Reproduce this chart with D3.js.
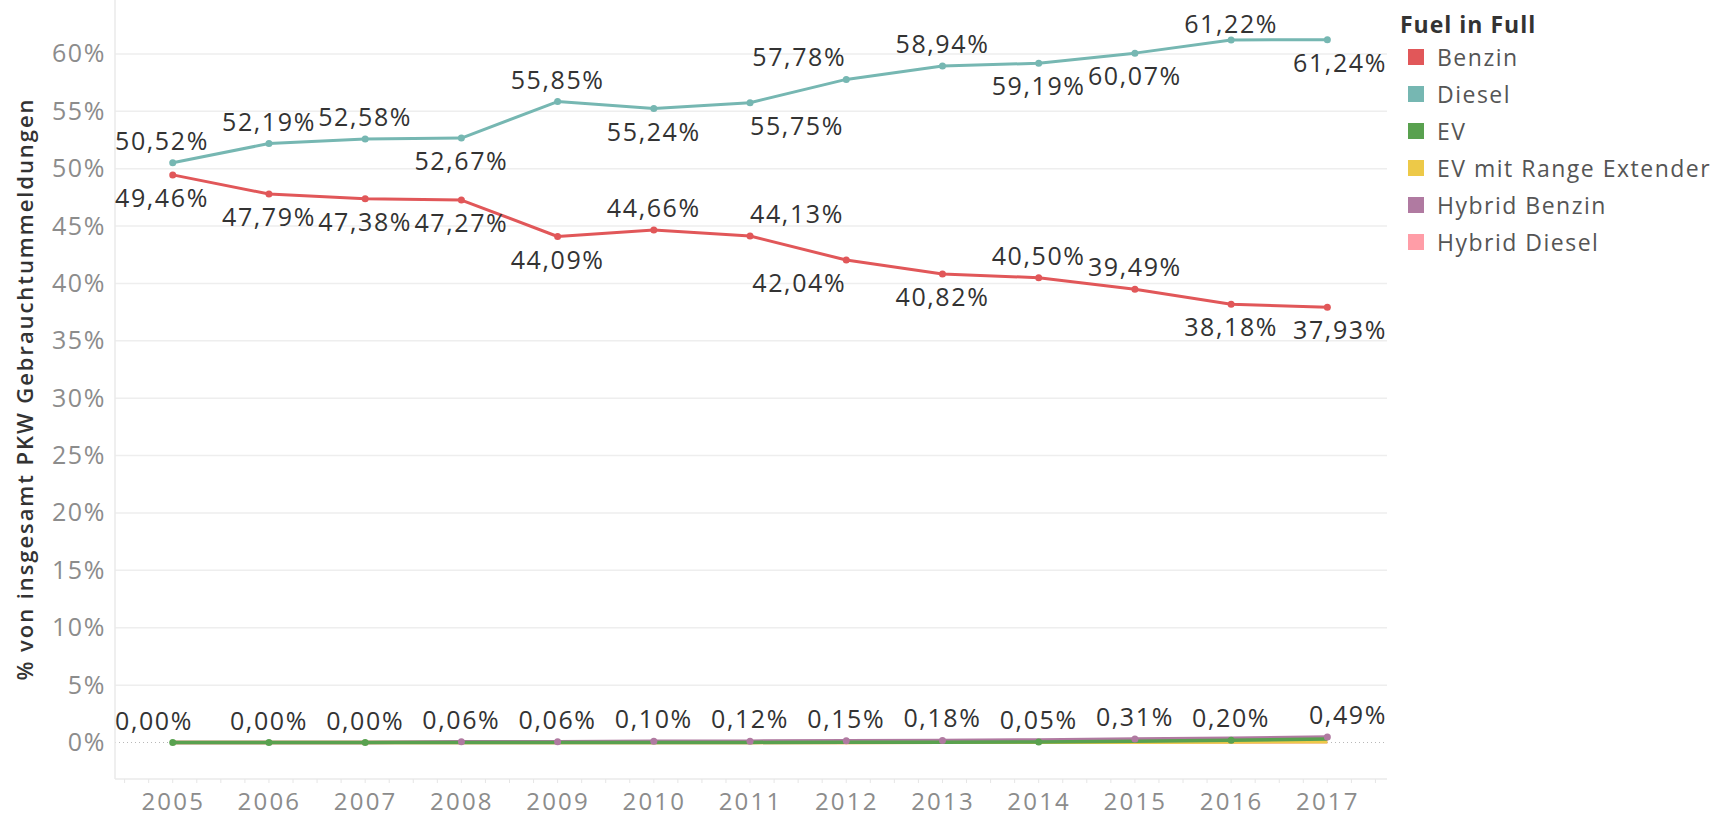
<!DOCTYPE html>
<html>
<head>
<meta charset="utf-8">
<script src="https://cdn.jsdelivr.net/npm/d3@7"></script>
<style>
  body { margin: 0; background: #fff; }
  svg { display: block; font-family: "Open Sans", sans-serif; }
</style>
</head>
<body>
<div id="chart"></div>
<script>
// data
var years = [2005, 2006, 2007, 2008, 2009, 2010, 2011, 2012, 2013, 2014, 2015, 2016, 2017];
var benzin = [49.46, 47.79, 47.38, 47.27, 44.09, 44.66, 44.13, 42.04, 40.82, 40.50, 39.49, 38.18, 37.93];
var diesel = [50.52, 52.19, 52.58, 52.67, 55.85, 55.24, 55.75, 57.78, 58.94, 59.19, 60.07, 61.22, 61.24];
var ev = [0.00, 0.00, 0.00, 0.00, 0.00, 0.01, 0.01, 0.02, 0.03, 0.05, 0.11, 0.20, 0.31];
var evRange = [0.00, 0.00, 0.00, 0.00, 0.00, 0.00, 0.00, 0.01, 0.02, 0.02, 0.03, 0.05, 0.07];
var hybridBenzin = [0.00, 0.00, 0.00, 0.06, 0.06, 0.10, 0.12, 0.15, 0.18, 0.22, 0.31, 0.36, 0.49];
var hybridDiesel = [0.00, 0.00, 0.00, 0.00, 0.00, 0.00, 0.00, 0.01, 0.02, 0.03, 0.04, 0.05, 0.06];
var fuels = ['Benzin', 'Diesel', 'EV', 'EV mit Range Extender', 'Hybrid Benzin', 'Hybrid Diesel'];
var yTicks = [0, 5, 10, 15, 20, 25, 30, 35, 40, 45, 50, 55, 60];
// which of the small series carries the label in each year
var smallLabelSeries = ['EV', 'EV', 'EV', 'Hybrid Benzin', 'Hybrid Benzin', 'Hybrid Benzin', 'Hybrid Benzin',
  'Hybrid Benzin', 'Hybrid Benzin', 'EV', 'Hybrid Benzin', 'EV', 'Hybrid Benzin'];

// label placement (a = above, b = below, r/l = text starts/ends at the point)
var dieselPlace = ['a', 'a', 'a', 'b', 'a', 'b', 'br', 'al', 'a', 'b', 'b', 'a', 'b'];
var benzinPlace = ['b', 'b', 'b', 'b', 'b', 'a', 'ar', 'bl', 'b', 'a', 'a', 'b', 'b'];

var colors = {
  'Benzin': '#e15759',
  'Diesel': '#76b7b2',
  'EV': '#59a14f',
  'EV mit Range Extender': '#edc948',
  'Hybrid Benzin': '#b07aa1',
  'Hybrid Diesel': '#ff9da7'
};
var values = {
  'Benzin': benzin,
  'Diesel': diesel,
  'EV': ev,
  'EV mit Range Extender': evRange,
  'Hybrid Benzin': hybridBenzin,
  'Hybrid Diesel': hybridDiesel
};

var width = 1721, height = 818;
var plot = {left: 115, right: 1387, top: 0, bottom: 779};

var svg = d3.select('#chart').append('svg')
    .attr('width', width)
    .attr('height', height);

var x = d3.scaleLinear()
    .domain([2004.4, 2017.62])
    .range([plot.left, plot.right]);

var y = d3.scaleLinear()
    .domain([-3.18, 64.7])
    .range([plot.bottom, plot.top]);

var de = d3.formatLocale({decimal: ',', thousands: '.', grouping: [3], currency: ['', '€']});
var pct = function(v) { return de.format('.2f')(v) + '%'; };

// gridlines
svg.append('g').selectAll('line')
  .data(yTicks.filter(function(d) { return d > 0; }))
  .enter().append('line')
    .attr('x1', plot.left).attr('x2', plot.right)
    .attr('y1', function(d) { return y(d); })
    .attr('y2', function(d) { return y(d); })
    .style('stroke', '#eeeeee')
    .style('stroke-width', 1.5);

// zero line
svg.append('line')
    .attr('x1', plot.left).attr('x2', plot.right)
    .attr('y1', y(0)).attr('y2', y(0))
    .style('stroke', '#b8b8b8')
    .style('stroke-width', 1)
    .style('stroke-dasharray', '1,3');

// pane border
svg.append('line')
    .attr('x1', plot.left).attr('x2', plot.left)
    .attr('y1', plot.top).attr('y2', plot.bottom)
    .style('stroke', '#eaeaea').style('stroke-width', 1.5);
svg.append('line')
    .attr('x1', plot.left).attr('x2', plot.right)
    .attr('y1', plot.bottom).attr('y2', plot.bottom)
    .style('stroke', '#eaeaea').style('stroke-width', 1.5);

// small ticks under the pane
svg.append('g').selectAll('line')
  .data(d3.range(2004.5, 2017.6, 0.25))
  .enter().append('line')
    .attr('x1', function(d) { return x(d); })
    .attr('x2', function(d) { return x(d); })
    .attr('y1', plot.bottom).attr('y2', plot.bottom + 4)
    .style('stroke', '#e6e6e6');

// y axis
var yAxis = svg.append('g')
    .attr('transform', 'translate(' + plot.left + ',0)')
    .call(d3.axisLeft(y).tickValues(yTicks).tickSize(0).tickPadding(9)
      .tickFormat(function(d) { return d + '%'; }));
yAxis.select('.domain').remove();
yAxis.selectAll('text')
    .style('font-family', '"Open Sans", sans-serif')
    .style('font-size', '25px')
    .style('letter-spacing', '1.6px')
    .style('fill', '#8c8c8c');

// x axis
var xAxis = svg.append('g')
    .attr('transform', 'translate(0,' + plot.bottom + ')')
    .call(d3.axisBottom(x).tickValues(years).tickSize(0).tickPadding(0)
      .tickFormat(d3.format('d')));
xAxis.select('.domain').remove();
xAxis.selectAll('text')
    .attr('dy', null)
    .attr('y', 31)
    .style('font-family', '"Open Sans", sans-serif')
    .style('font-size', '24px')
    .style('letter-spacing', '2.2px')
    .style('fill', '#8c8c8c');

// axis title
svg.append('text')
    .attr('transform', 'translate(33,390) rotate(-90)')
    .attr('text-anchor', 'middle')
    .attr('textLength', 581)
    .attr('lengthAdjust', 'spacing')
    .style('font-size', '22px')
    .style('font-weight', 600)
    .style('fill', '#333')
    .text('% von insgesamt PKW Gebrauchtummeldungen');

// lines
var line = d3.line()
    .x(function(d, i) { return x(years[i]); })
    .y(function(d) { return y(d); });

var drawOrder = ['Hybrid Diesel', 'EV mit Range Extender', 'Hybrid Benzin', 'EV', 'Benzin', 'Diesel'];
svg.append('g').selectAll('path')
  .data(drawOrder)
  .enter().append('path')
    .attr('d', function(d) { return line(values[d]); })
    .style('fill', 'none')
    .style('stroke', function(d) { return colors[d]; })
    .style('stroke-width', function(d) { return (d === 'Benzin' || d === 'Diesel') ? 3 : 3.5; })
    .style('stroke-linejoin', 'round');

// markers
var marks = [];
['Benzin', 'Diesel'].forEach(function(s) {
  values[s].forEach(function(v, i) { marks.push({s: s, i: i, v: v}); });
});
smallLabelSeries.forEach(function(s, i) { marks.push({s: s, i: i, v: values[s][i]}); });

svg.append('g').selectAll('circle')
  .data(marks)
  .enter().append('circle')
    .attr('cx', function(d) { return x(years[d.i]); })
    .attr('cy', function(d) { return y(d.v); })
    .attr('r', 3.5)
    .style('fill', function(d) { return colors[d.s]; });

// value labels
var labels = [];
diesel.forEach(function(v, i) { labels.push({v: v, i: i, pos: dieselPlace[i]}); });
benzin.forEach(function(v, i) { labels.push({v: v, i: i, pos: benzinPlace[i]}); });
smallLabelSeries.forEach(function(s, i) { labels.push({v: values[s][i], i: i, pos: 'a'}); });

var labelG = svg.append('g');
labels.forEach(function(d) {
  var px = x(years[d.i]), py = y(d.v);
  var base = d.pos[0] === 'a' ? py - 13 : py + 32;
  var t = labelG.append('text')
      .style('font-size', '25px')
      .style('letter-spacing', '1.6px')
      .style('fill', '#333')
      .text(pct(d.v));
  var w = t.node().getComputedTextLength();
  var x0 = px - w / 2;
  if (d.pos[1] === 'r') x0 = px;
  if (d.pos[1] === 'l') x0 = px - w;
  // first and last year labels sit against the pane edges
  if (d.i === 0) x0 = plot.left;
  if (d.i === years.length - 1) x0 = plot.right - w;
  base = Math.max(33, base);
  t.attr('x', x0).attr('y', base);
});

// legend
var legend = svg.append('g').attr('transform', 'translate(1400,0)');
legend.append('text')
    .attr('x', 0).attr('y', 33)
    .style('font-size', '23px')
    .style('font-weight', 700)
    .style('letter-spacing', '1px')
    .style('fill', '#333')
    .text('Fuel in Full');
var item = legend.selectAll('.item')
  .data(fuels)
  .enter().append('g')
    .attr('class', 'item')
    .attr('transform', function(d, i) { return 'translate(0,' + (57 + i * 37) + ')'; });
item.append('rect')
    .attr('x', 8).attr('y', -8)
    .attr('width', 16).attr('height', 16)
    .style('fill', function(d) { return colors[d]; });
item.append('text')
    .attr('x', 37).attr('y', 9)
    .style('font-size', '23px')
    .style('letter-spacing', '1.5px')
    .style('fill', '#555')
    .text(function(d) { return d; });
</script>
</body>
</html>
